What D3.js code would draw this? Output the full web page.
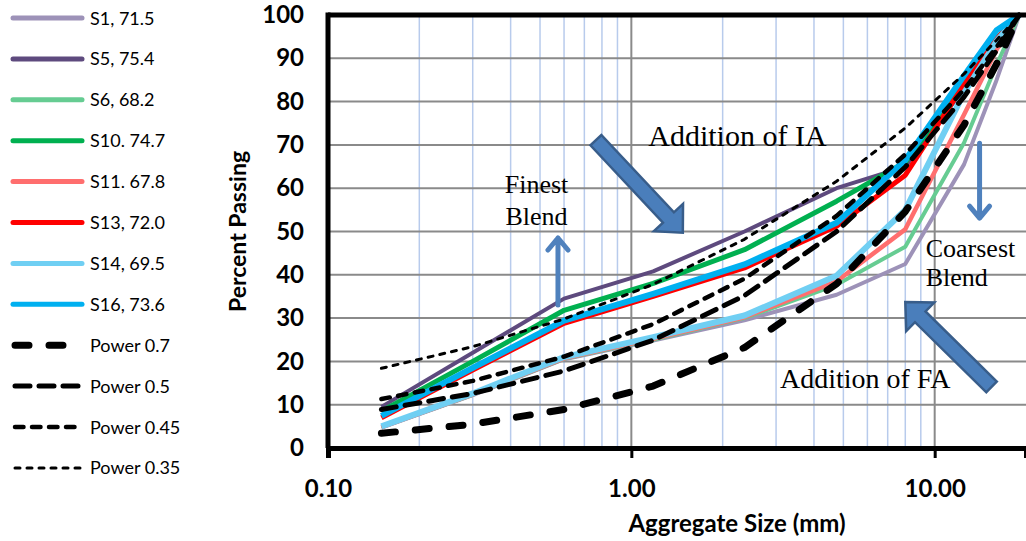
<!DOCTYPE html>
<html lang="en">
<head>
<meta charset="UTF-8">
<title>Aggregate gradation</title>
<script src="https://d3js.org/d3.v7.min.js"></script>
<style>
  body { margin: 0; background: #fff; }
  svg text { font-family: Lato, "Open Sans", sans-serif; }
  .note { font-family: "Liberation Serif", "Times New Roman", serif !important; }
</style>
</head>
<body>
<div id="chart"></div>
<script>
// sieve sizes (mm)
const sieves = [0.15, 0.3, 0.6, 1.18, 2.36, 4.75, 8, 12.5, 16, 19];

// percent passing
const s1  = [4.7, 12.2, 20.5, 24.8, 29.5, 35.4, 42.5, 65.5, 85.0, 100];
const s5  = [9.5, 22.0, 34.5, 40.8, 50.0, 60.0, 65.0, 83.0, 94.0, 100];
const s6  = [4.8, 12.3, 20.6, 25.0, 30.0, 37.7, 46.5, 70.5, 88.5, 100];
const s10 = [8.5, 20.0, 31.8, 38.0, 45.8, 57.0, 66.0, 84.5, 94.5, 100];
const s11 = [4.8, 12.4, 20.7, 25.2, 30.2, 38.5, 50.5, 77.0, 92.0, 100];
const s13 = [7.0, 18.0, 28.8, 35.0, 41.6, 51.2, 63.0, 84.0, 94.5, 100];
const s14 = [5.0, 12.6, 21.0, 25.6, 30.6, 39.8, 55.0, 82.0, 94.0, 100];
const s16 = [7.4, 18.5, 29.4, 35.6, 42.4, 52.0, 66.5, 86.0, 96.5, 100];
const p70 = [3.4, 5.5, 8.9, 14.3, 23.2, 37.9, 54.6, 74.6, 88.7, 100];
const p50 = [8.9, 12.6, 17.8, 24.9, 35.2, 50.0, 64.9, 81.1, 91.8, 100];
const p45 = [11.3, 15.5, 21.1, 28.6, 39.1, 53.6, 67.8, 82.8, 92.6, 100];
const p35 = [18.4, 23.4, 29.8, 37.8, 48.2, 61.6, 73.9, 86.4, 94.2, 100];

const names  = ["S1, 71.5", "S5, 75.4", "S6, 68.2", "S10. 74.7", "S11. 67.8", "S13, 72.0",
                "S14, 69.5", "S16, 73.6", "Power 0.7", "Power 0.5", "Power 0.45", "Power 0.35"];
const values = [s1, s5, s6, s10, s11, s13, s14, s16, p70, p50, p45, p35];
const colors = ["#9d92b8", "#5e4a7e", "#66cc92", "#00b050", "#ff6e6e", "#ff0000",
                "#70cff3", "#00b0f0", "#000", "#000", "#000", "#000"];
const widths = [4, 4, 4, 5, 4.5, 5, 6, 6, 7, 5, 4.5, 3];
const dashes = [null, null, null, null, null, null, null, null, "14,20", "15,9", "8.5,8.5", "5,7"];

const yTicks = d3.range(0, 101, 10);
const xMajor = [0.1, 1, 10];
const xMinor = [0.2,0.3,0.4,0.5,0.6,0.7,0.8,0.9, 2,3,4,5,6,7,8,9];

const W = 1026, H = 541;
const x = d3.scaleLog().domain([0.1, 20]).range([328, 1026]);
const y = d3.scaleLinear().domain([0, 100]).range([448, 15]);

const svg = d3.select("#chart").append("svg")
    .attr("width", W).attr("height", H);

// grid
svg.append("g").selectAll("line").data(xMinor).join("line")
    .attr("x1", d => x(d)).attr("x2", d => x(d))
    .attr("y1", y(100)).attr("y2", y(0))
    .attr("stroke", "#b8cbec").attr("stroke-width", 1.5);
svg.append("g").selectAll("line").data(yTicks.slice(1, -1)).join("line")
    .attr("x1", x(0.1)).attr("x2", W)
    .attr("y1", d => y(d)).attr("y2", d => y(d))
    .attr("stroke", "#8a8a8a").attr("stroke-width", 2);
svg.append("g").selectAll("line").data([1, 10]).join("line")
    .attr("x1", d => x(d)).attr("x2", d => x(d))
    .attr("y1", y(100)).attr("y2", y(0))
    .attr("stroke", "#8a8a8a").attr("stroke-width", 2);

// series
const line = d3.line().x(d => x(d[0])).y(d => y(d[1]));
const plot = svg.append("g");
values.forEach((v, i) => {
  plot.append("path")
    .attr("d", line(sieves.map((s, j) => [s, v[j]])))
    .attr("fill", "none")
    .attr("stroke", colors[i])
    .attr("stroke-width", widths[i])
    .attr("stroke-linejoin", "round")
    .attr("stroke-linecap", dashes[i] ? "round" : "butt")
    .attr("stroke-dasharray", dashes[i]);
});

// frame
svg.append("line").attr("x1", x(0.1)).attr("x2", W).attr("y1", y(100)).attr("y2", y(100))
    .attr("stroke", "#000").attr("stroke-width", 5);
svg.append("line").attr("x1", x(0.1)).attr("x2", x(0.1)).attr("y1", y(100) - 2.5).attr("y2", y(0))
    .attr("stroke", "#000").attr("stroke-width", 5);

// x axis
const gx = svg.append("g").attr("transform", `translate(0,${y(0)})`);
gx.call(d3.axisBottom(x).tickValues(xMinor).tickSize(7).tickFormat(""));
gx.call(d3.axisBottom(x).tickValues(xMajor).tickSize(10).tickPadding(22).tickFormat(d3.format(".2f")));
gx.selectAll("path.domain").attr("stroke-width", 5);
gx.selectAll(".tick line").attr("stroke-width", 3);
gx.selectAll(".tick text").attr("font-size", 24).attr("font-weight", 700)
    .style("font-family", "Lato, sans-serif").attr("fill", "#000");

// y axis
const gy = svg.append("g").attr("transform", `translate(${x(0.1)},0)`);
gy.call(d3.axisLeft(y).tickValues(yTicks).tickSize(0).tickPadding(24));
gy.select("path.domain").remove();
gy.selectAll(".tick text").attr("font-size", 24).attr("font-weight", 700)
    .style("font-family", "Lato, sans-serif").attr("fill", "#000");

svg.append("text").attr("transform", `translate(246,${(y(0) + y(100)) / 2}) rotate(-90)`)
    .attr("text-anchor", "middle").attr("font-size", 23).attr("font-weight", 700)
    .text("Percent Passing");
svg.append("text").attr("x", 737).attr("y", 532)
    .attr("text-anchor", "middle").attr("font-size", 24).attr("font-weight", 700)
    .text("Aggregate Size (mm)");

// legend
const leg = svg.append("g").selectAll("g").data(names).join("g")
    .attr("transform", (d, i) => `translate(0,${18 + i * 40.9})`);
leg.append("line").attr("x1", (d, i) => dashes[i] ? 15 : 13).attr("x2", 82)
    .attr("stroke", (d, i) => colors[i])
    .attr("stroke-width", (d, i) => dashes[i] ? widths[i] : 5)
    .attr("stroke-linecap", "round")
    .attr("stroke-dasharray", (d, i) => dashes[i]);
leg.append("text").attr("x", 90).attr("y", 6.5).attr("font-size", 18).text(d => d);

// annotations
function blockArrow(t, p, shaftW, headW, headL) {
  const x0 = x(t[0]), y0 = y(t[1]), x1 = x(p[0]), y1 = y(p[1]);
  const len = Math.hypot(x1 - x0, y1 - y0);
  const ux = (x1 - x0) / len, uy = (y1 - y0) / len, nx = -uy, ny = ux;
  const bx = x1 - ux * headL, by = y1 - uy * headL;
  const pts = [
    [x0 + nx * shaftW / 2, y0 + ny * shaftW / 2],
    [bx + nx * shaftW / 2, by + ny * shaftW / 2],
    [bx + nx * headW / 2, by + ny * headW / 2],
    [x1, y1],
    [bx - nx * headW / 2, by - ny * headW / 2],
    [bx - nx * shaftW / 2, by - ny * shaftW / 2],
    [x0 - nx * shaftW / 2, y0 - ny * shaftW / 2]
  ];
  svg.append("polygon").attr("points", pts.map(q => q.join(",")).join(" "))
    .attr("fill", "#4a7ebb").attr("stroke", "#385d8a").attr("stroke-width", 2.5)
    .attr("stroke-linejoin", "miter");
}
function thinArrow(xv, from, to) {
  const px = x(xv), y0 = y(from), y1 = y(to), dir = Math.sign(y1 - y0);
  svg.append("path")
    .attr("d", `M${px},${y0}L${px},${y1}M${px - 10},${y1 - dir * 12}L${px},${y1}L${px + 10},${y1 - dir * 12}`)
    .attr("fill", "none").attr("stroke", "#4f81bd").attr("stroke-width", 5)
    .attr("stroke-linecap", "round").attr("stroke-linejoin", "round");
}
blockArrow([0.764, 71.1], [1.478, 49.7], 15, 40, 21);
blockArrow([15.4, 14.1], [8.0, 33.7], 15, 40, 21);
thinArrow(0.573, 33, 48.5);
thinArrow(14.06, 70.4, 53.1);

const note = (xv, yv, txt, size, anchor) => svg.append("text").attr("class", "note")
    .attr("x", x(xv)).attr("y", y(yv)).attr("font-size", size)
    .attr("text-anchor", anchor || "start").text(txt);
note(1.137, 69.7, "Addition of IA", 30);
note(0.487, 58.9, "Finest", 26, "middle");
note(0.487, 51.5, "Blend", 26, "middle");
note(9.34, 44.1, "Coarsest", 26);
note(9.34, 37.5, "Blend", 26);
note(3.09, 13.8, "Addition of FA", 28);
</script>
</body>
</html>
